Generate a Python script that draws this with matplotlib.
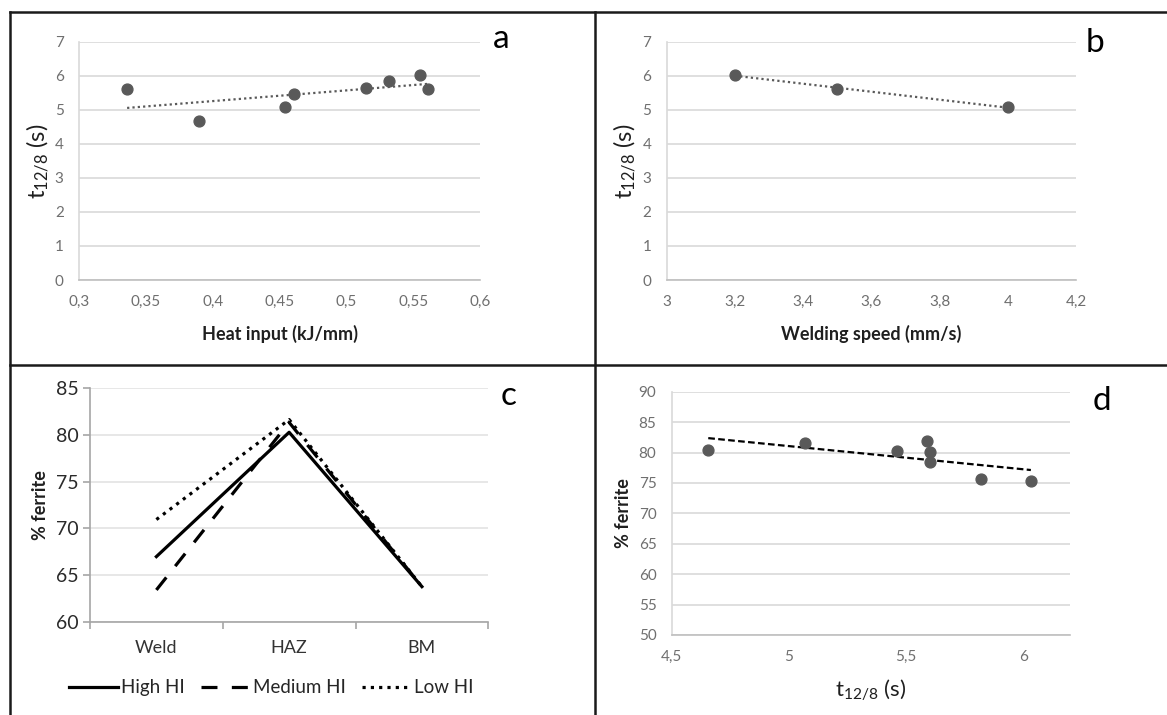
import numpy as np
from matplotlib import pyplot as plt
from matplotlib.lines import Line2D
from matplotlib.ticker import FuncFormatter, FixedLocator

plt.rcParams['font.family'] = ['Lato', 'DejaVu Sans']
plt.rcParams['mathtext.fontset'] = 'custom'
plt.rcParams['mathtext.rm'] = 'Lato'

# --- datos ---
# (a) heat input vs t12/8
heat_input = [0.336, 0.390, 0.454, 0.461, 0.515, 0.532, 0.555, 0.561]
t128_a = [5.60, 4.67, 5.08, 5.46, 5.63, 5.85, 6.03, 5.62]

# (b) welding speed vs t12/8
weld_speed = [3.2, 3.5, 4.0]
t128_b = [6.03, 5.60, 5.08]

# (c) ferrite per zone
zonas = ['Weld', 'HAZ', 'BM']
ferrite_high = [67.0, 80.25, 63.8]
ferrite_medium = [63.45, 81.3, 63.8]
ferrite_low = [70.95, 81.6, 63.8]

# (d) t12/8 vs ferrite
t128_d = [4.656, 5.070, 5.461, 5.590, 5.602, 5.602, 5.822, 6.033]
ferrite_d = [80.4, 81.6, 80.3, 81.9, 80.15, 78.5, 75.6, 75.4]

GRIS_TXT = '#6f6f6f'
GRIS_GRID = '#d9d9d9'
MARK = '#595959'


def coma(v, pos):
    return ('%g' % v).replace('.', ',')


def estilo_excel(ax):
    for s in ['top', 'right']:
        ax.spines[s].set_visible(False)
    ax.spines['left'].set_color(GRIS_GRID)
    ax.spines['bottom'].set_color('#bfbfbf')
    ax.spines['left'].set_linewidth(1.2)
    ax.spines['bottom'].set_linewidth(1.2)
    ax.tick_params(length=0, labelsize=11, colors=GRIS_TXT, pad=11)
    ax.grid(axis='y', color=GRIS_GRID, lw=1.2)
    ax.set_axisbelow(True)
    ax.xaxis.set_major_formatter(FuncFormatter(coma))
    ax.yaxis.set_major_formatter(FuncFormatter(coma))


def tendencia(ax, x, y, **kw):
    m, b = np.polyfit(x, y, 1)
    xs = np.array([min(x), max(x)])
    ax.plot(xs, m * xs + b, **kw)


fig = plt.figure(figsize=(11.67, 7.15), dpi=100)
W, H = 1167.0, 715.0


def caja(l, t, r, b):
    return [l / W, 1 - b / H, (r - l) / W, (b - t) / H]


T_LABEL = r'$\mathregular{t_{12/8}}$ (s)'

# ---- a ----
axa = fig.add_axes(caja(79, 41.7, 480, 280))
estilo_excel(axa)
tendencia(axa, heat_input, t128_a, color=MARK, lw=1.6, ls=(0, (1, 1.4)))
axa.plot(heat_input, t128_a, 'o', color=MARK, ms=7.8, zorder=5)
axa.set_xlim(0.3, 0.6)
axa.set_ylim(0, 7)
axa.set_xticks(np.arange(0.3, 0.601, 0.05))
axa.set_yticks(range(0, 8))
axa.set_xlabel('Heat input (kJ/mm)', fontsize=13, fontweight='bold', color='#1f1f1f')
axa.set_ylabel(T_LABEL, fontsize=17, color='#1f1f1f')
axa.xaxis.set_label_coords(0.5, -0.19)
axa.yaxis.set_label_coords(-0.07, 0.5)

# ---- b ----
axb = fig.add_axes(caja(666.7, 41.7, 1076, 280))
estilo_excel(axb)
tendencia(axb, weld_speed, t128_b, color=MARK, lw=1.6, ls=(0, (1, 1.4)))
axb.plot(weld_speed, t128_b, 'o', color=MARK, ms=7.8, zorder=5)
axb.set_xlim(3, 4.2)
axb.set_ylim(0, 7)
axb.set_xticks(np.arange(3, 4.201, 0.2))
axb.set_yticks(range(0, 8))
axb.set_xlabel('Welding speed (mm/s)', fontsize=13, fontweight='bold', color='#1f1f1f')
axb.set_ylabel(T_LABEL, fontsize=17, color='#1f1f1f')
axb.xaxis.set_label_coords(0.5, -0.19)
axb.yaxis.set_label_coords(-0.07, 0.5)

# ---- c ----
axc = fig.add_axes(caja(90, 387.7, 488.3, 622.3))
for s in ['top', 'right']:
    axc.spines[s].set_visible(False)
axc.spines['left'].set_color('#a6a6a6')
axc.spines['bottom'].set_color('#a6a6a6')
axc.spines['left'].set_linewidth(1.2)
axc.spines['bottom'].set_linewidth(1.2)
axc.grid(axis='y', color='#e3e3e3', lw=1.2)
axc.set_axisbelow(True)
xc = np.arange(len(zonas))
axc.plot(xc, ferrite_high, color='black', lw=2.3, label='High HI')
axc.plot(xc, ferrite_medium, color='black', lw=2.3, ls=(0, (5, 4.5)), label='Medium HI')
axc.plot(xc, ferrite_low, color='black', lw=2.3, ls=(0, (1, 1.6)), label='Low HI')
axc.set_xlim(-0.5, 2.5)
axc.set_ylim(60, 85)
axc.set_yticks(range(60, 86, 5))
axc.xaxis.set_major_locator(FixedLocator([-0.5, 0.5, 1.5, 2.5]))
axc.xaxis.set_minor_locator(FixedLocator(list(xc)))
axc.set_xticklabels([])
axc.set_xticklabels(zonas, minor=True)
axc.tick_params(axis='x', which='major', length=5, color='#a6a6a6', width=1.2)
axc.tick_params(axis='x', which='minor', length=0, pad=13, labelsize=13, labelcolor='#333333')
axc.tick_params(axis='y', length=5, color='#a6a6a6', width=1.2, labelsize=14, labelcolor='#2a2a2a', pad=3)
axc.set_ylabel('% ferrite', fontsize=13, fontweight='bold', color='#1f1f1f')
axc.yaxis.set_label_coords(-0.103, 0.5)
axc.legend(loc='center', bbox_to_anchor=(0.455, -0.28), ncol=3, frameon=False,
           fontsize=13.5, handlelength=2.6, handletextpad=0.15, columnspacing=0.9,
           labelcolor='#262626')

# ---- d ----
axd = fig.add_axes(caja(671.7, 391.7, 1070, 635))
estilo_excel(axd)
tendencia(axd, t128_d, ferrite_d, color='black', lw=1.6, ls=(0, (3, 1.5)))
axd.plot(t128_d, ferrite_d, 'o', color=MARK, ms=7.8, zorder=5)
axd.set_xlim(4.5, 6.2)
axd.set_ylim(50, 90)
axd.set_xticks([4.5, 5, 5.5, 6])
axd.set_yticks(range(50, 91, 5))
axd.set_xlabel(T_LABEL, fontsize=16, color='#1f1f1f')
axd.set_ylabel('% ferrite', fontsize=13, fontweight='bold', color='#1f1f1f')
axd.xaxis.set_label_coords(0.5, -0.175)
axd.yaxis.set_label_coords(-0.1, 0.5)

# letras de panel
for letra, x, y in [('a', 493, 48), ('b', 1086, 52), ('c', 501, 405), ('d', 1093, 410)]:
    fig.text(x / W, 1 - y / H, letra, fontsize=24, ha='left', va='baseline', color='black')

# marco
for (x0, y0, x1, y1) in [(10, 12, W, 12), (10, 12, 10, H), (595, 12, 595, H), (10, 365, W, 365)]:
    fig.add_artist(Line2D([x0 / W, x1 / W], [1 - y0 / H, 1 - y1 / H], color='#1a1a1a', lw=1.8,
                          transform=fig.transFigure))

fig.savefig('out.png', dpi=100)
